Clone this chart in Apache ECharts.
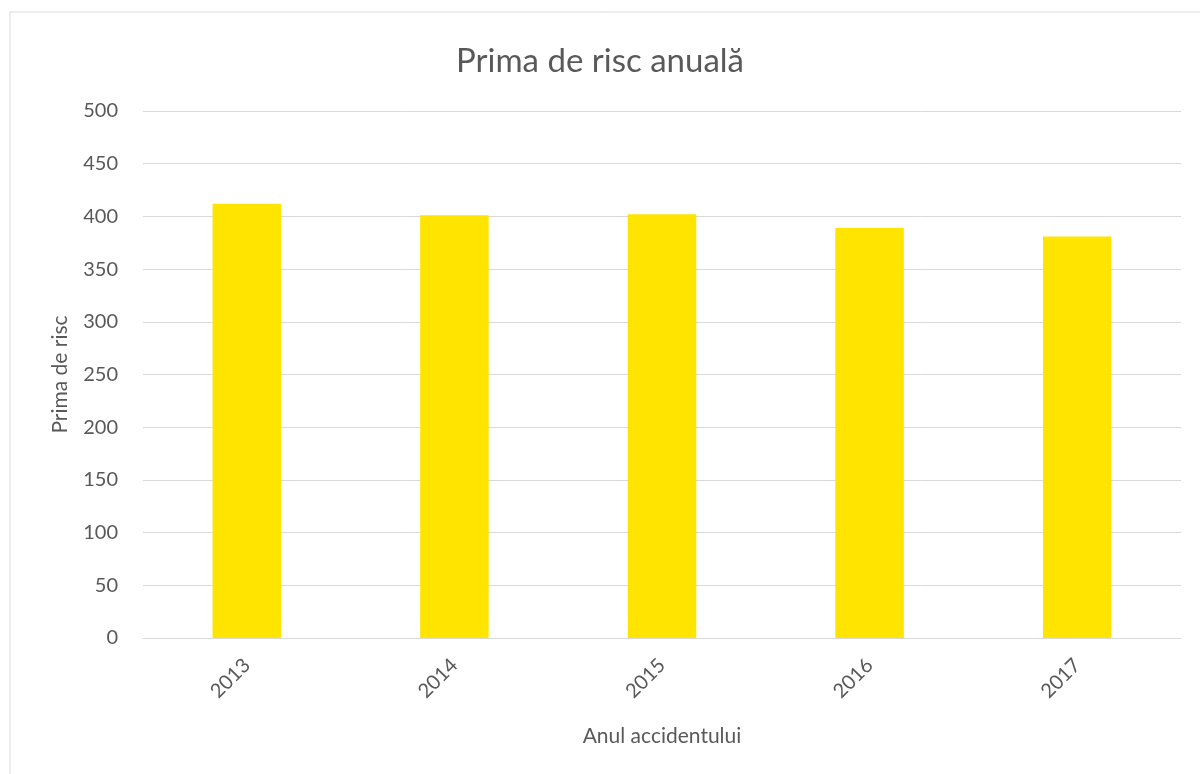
<!DOCTYPE html>
<html>
<head>
<meta charset="utf-8">
<script src="https://cdn.jsdelivr.net/npm/echarts@6/dist/echarts.min.js"></script>
<style>
  html, body { margin: 0; padding: 0; background: #fff; }
  #chart { width: 1200px; height: 774px; }
</style>
</head>
<body>
<div id="chart"></div>
<script>
// values
const years = ["2013", "2014", "2015", "2016", "2017"];
const prima = [412, 401, 402, 389, 381];
const yTicks = [0, 50, 100, 150, 200, 250, 300, 350, 400, 450, 500];

const font = "Lato";
const grey = "#595959";

const chart = echarts.init(document.getElementById("chart"));
chart.setOption({
  animation: false,
  textStyle: { fontFamily: font },
  title: {
    text: "Prima de risc anuală",
    left: "center",
    top: 40,
    textStyle: { fontFamily: font, fontSize: 33, fontWeight: "normal", color: grey }
  },
  graphic: [{
    type: "rect",
    shape: { x: 10, y: 12, width: 1200, height: 800 },
    style: { fill: "none", stroke: "#d9d9d9", lineWidth: 1 },
    silent: true
  }],
  grid: { left: 143, right: 19, top: 111, bottom: 136 },
  xAxis: {
    type: "category",
    data: years,
    name: "Anul accidentului",
    nameLocation: "middle",
    nameGap: 88,
    nameTextStyle: { fontFamily: font, fontSize: 21, color: grey },
    axisLine: { lineStyle: { color: "#d9d9d9" } },
    axisTick: { show: false },
    axisLabel: { rotate: 45, fontFamily: font, fontSize: 20, color: grey, margin: 24 }
  },
  yAxis: {
    type: "value",
    min: yTicks[0],
    max: yTicks[yTicks.length - 1],
    interval: yTicks[1] - yTicks[0],
    name: "Prima de risc",
    nameLocation: "middle",
    nameGap: 72,
    nameTextStyle: { fontFamily: font, fontSize: 21, color: grey },
    axisLine: { show: false },
    axisTick: { show: false },
    axisLabel: { fontFamily: font, fontSize: 20, color: grey, margin: 25 },
    splitLine: { lineStyle: { color: "#d9d9d9", width: 1 } }
  },
  series: [{
    type: "bar",
    data: prima,
    barWidth: "33%",
    itemStyle: { color: "#FFE400" }
  }]
});
</script>
</body>
</html>
